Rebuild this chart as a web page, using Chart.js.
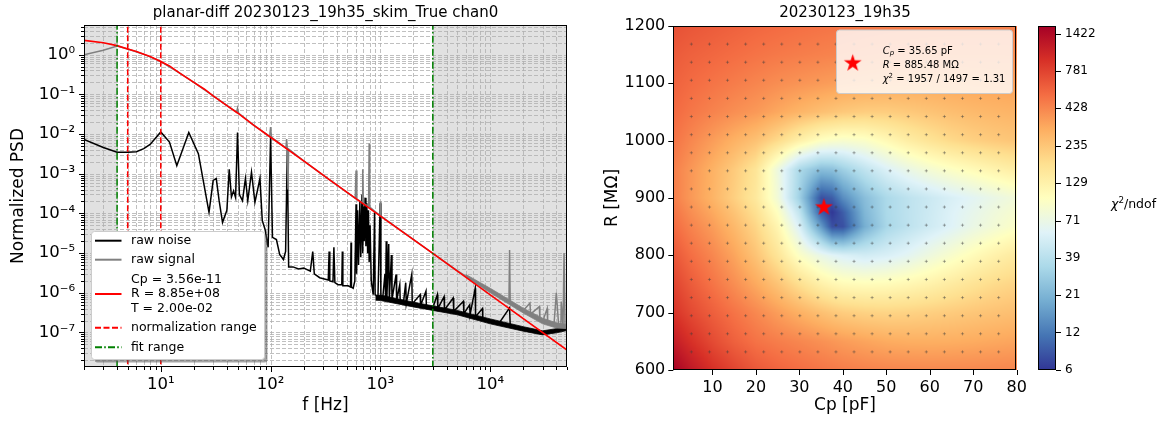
<!DOCTYPE html>
<html>
<head>
<meta charset="utf-8">
<script src="https://cdn.jsdelivr.net/npm/chart.js@4.4.1/dist/chart.umd.min.js"></script>
<style>
  html, body { margin: 0; padding: 0; background: #fff; overflow: hidden; }
  #wrap { position: relative; width: 1160px; height: 423px; }
  #wrap canvas { position: absolute; left: 0; top: 0; }
</style>
</head>
<body>
<div id="wrap">
  <canvas id="psdChart" width="1160" height="423"></canvas>
  <canvas id="chiChart" width="1160" height="423"></canvas>
  <canvas id="cbChart" width="1160" height="423"></canvas>
</div>
<script>
// ---- left panel: normalized PSD ----
const freqNoise = [2, 3, 4, 5, 6, 7, 8, 10, 12, 14, 18, 22, 27.5, 30, 32, 34, 36.5, 40, 42, 44, 46, 48, 50, 52, 55.5, 59, 62, 67, 72, 80, 84, 89, 95, 100, 104, 113, 121, 131, 137, 142, 146, 160, 180, 200, 230, 242, 250, 280, 335, 341, 346, 370, 377, 385, 411, 445, 450, 455, 508, 535, 540, 545, 565, 585, 600, 607, 620, 632, 650, 662, 680, 690, 700, 712, 725, 738, 752, 765, 778, 790, 805, 825, 860, 885, 895, 950, 995, 1010, 1050, 1100, 1115, 1130, 1145, 1190, 1205, 1260, 1275, 1390, 1405, 1500, 1515, 1620, 1700, 1720, 1930, 1950, 2300, 2320, 2600, 2620, 3000, 3300, 3330, 3800, 3830, 4600, 4650, 5700, 5750, 6500, 6550, 7300, 7350, 8500, 8550, 10000, 12000, 15000, 15200, 20000, 25000, 30000, 35000, 40000, 45000, 50000];
const psdNoise = [7.3e-3, 4.6e-3, 3.5e-3, 3.5e-3, 3.6e-3, 4.3e-3, 5.5e-3, 1.13e-2, 6.3e-3, 1.6e-3, 1.1e-2, 3.2e-3, 1.07e-4, 6.8e-4, 7.6e-4, 2.1e-4, 5.9e-5, 1.2e-4, 1.3e-3, 2.6e-4, 3.7e-4, 2.5e-4, 1.1e-2, 3.0e-4, 2.1e-4, 7.6e-4, 2.1e-4, 1.1e-3, 1.9e-4, 7.6e-4, 6.6e-5, 4.0e-5, 1.4e-5, 8.5e-3, 2.5e-5, 2.2e-5, 9.3e-6, 6.9e-6, 1.1e-5, 4.0e-3, 4.5e-6, 4.5e-6, 4.0e-6, 4.2e-6, 3.5e-6, 1.1e-5, 3.0e-6, 2.4e-6, 2.1e-6, 1.1e-5, 2.0e-6, 1.9e-6, 1.4e-5, 1.8e-6, 1.6e-6, 1.6e-6, 1.1e-5, 1.5e-6, 1.5e-6, 1.4e-6, 1.85e-5, 1.4e-6, 1.3e-6, 2.0e-6, 1.7e-4, 3.0e-6, 1.2e-4, 5.0e-6, 2.0e-4, 8.0e-6, 3.0e-4, 1.0e-5, 1.5e-4, 2.0e-5, 2.5e-4, 1.5e-5, 1.8e-4, 1.0e-5, 1.2e-4, 6.0e-6, 5.0e-5, 2.0e-6, 9.0e-7, 1.07e-4, 9.0e-7, 8.0e-7, 1.8e-4, 8.0e-7, 7.4e-7, 3.0e-6, 7.2e-7, 2.0e-5, 7.5e-7, 1.7e-5, 7.0e-7, 9.0e-6, 6.8e-7, 2.9e-6, 6.4e-7, 1.6e-6, 6.0e-7, 5.5e-7, 1.8e-6, 5.3e-7, 2.9e-6, 5.2e-7, 9.0e-7, 4.8e-7, 1.1e-6, 4.6e-7, 4.2e-7, 9.0e-7, 4.0e-7, 8.0e-7, 3.7e-7, 7.4e-7, 3.4e-7, 6.1e-7, 3.0e-7, 5.0e-7, 2.8e-7, 1.3e-6, 2.5e-7, 4.0e-7, 2.1e-7, 1.9e-7, 1.7e-7, 4.2e-7, 1.5e-7, 1.25e-7, 1.05e-7, 9.5e-8, 1.0e-7, 1.15e-7, 1.25e-7, 1.25e-7];

// spread of the dense noise trace above ~1 kHz
const bandFreq = [900, 1000, 2000, 3000, 5000, 10000, 20000, 30000, 40000, 50000];
const bandHigh = [8.5e-7, 8.8e-7, 5.8e-7, 4.7e-7, 3.6e-7, 2.2e-7, 1.4e-7, 1.1e-7, 1.25e-7, 1.38e-7];
const bandLow = [6.5e-7, 6.4e-7, 4.4e-7, 3.6e-7, 2.8e-7, 1.65e-7, 1.08e-7, 8.7e-8, 9.8e-8, 1.12e-7];

const freqSignal = [2, 3, 4, 5, 7, 10, 15, 20, 30, 45, 49, 50, 51, 70, 98, 100, 102, 138, 140, 142, 144, 146, 200, 345, 590, 600, 610, 680, 690, 700, 780, 790, 800, 990, 1000, 1010, 3000, 5000, 7000, 10000, 14800, 15000, 15200, 20000, 23000, 23300, 28000, 28300, 30000, 33000, 33300, 38000, 40000, 42000, 44000, 44300, 46000, 47000, 48000, 50000];
const psdSignal = [1.0, 1.3, 1.65, 1.39, 1.03, 0.67, 0.34, 0.2, 0.092, 0.042, 0.036, 0.045, 0.034, 0.0168, 0.0087, 0.015, 0.0082, 4.5e-3, 7.5e-3, 4.4e-3, 4.0e-4, 4.2e-3, 2.1e-3, 7.0e-4, 2.4e-4, 1.2e-3, 2.3e-4, 1.9e-4, 1.3e-3, 1.8e-4, 1.5e-4, 5.8e-3, 1.45e-4, 8.8e-5, 2.0e-4, 8.6e-5, 9.8e-6, 3.6e-6, 2.0e-6, 1.15e-6, 6.0e-7, 1.2e-5, 5.8e-7, 3.6e-7, 5.5e-7, 2.9e-7, 4.5e-7, 2.2e-7, 1.9e-7, 4.0e-7, 1.75e-7, 1.5e-7, 1.0e-6, 1.45e-7, 1.42e-7, 6.0e-7, 1.4e-7, 1.0e-5, 1.4e-7, 1.4e-7];

// spread of the signal trace where it rises above the fit
const sigBandFreq = [6000, 10000, 20000, 30000, 40000, 50000];
const sigBandHigh = [2.9e-6, 1.3e-6, 4.1e-7, 2.3e-7, 1.75e-7, 1.6e-7];
const sigBandLow = [2.5e-6, 1.0e-6, 3.1e-7, 1.65e-7, 1.3e-7, 1.25e-7];

const freqFit = [2, 3, 4, 5, 6, 7, 8, 10, 12, 15, 20, 25, 30, 40, 50, 70, 100, 200, 345, 1000, 3000, 10000, 50000];
const psdFit = [2.3, 2.0, 1.69, 1.39, 1.2, 1.03, 0.9, 0.67, 0.52, 0.34, 0.2, 0.135, 0.092, 0.052, 0.034, 0.0168, 8.3e-3, 2.1e-3, 7.0e-4, 8.6e-5, 9.8e-6, 8.9e-7, 3.6e-8];

const normRange = [5, 10];
const fitRange = [4, 3000];
const fitCp = 3.56e-11, fitR = 8.85e8, fitT = 2.00e-2;

const freqTickValues = [10, 100, 1000, 10000];
const freqTickLabels = ['10¹', '10²', '10³', '10⁴'];
const psdTickValues = [1e-7, 1e-6, 1e-5, 1e-4, 1e-3, 1e-2, 1e-1, 1];
const psdTickLabels = ['10⁻⁷', '10⁻⁶', '10⁻⁵', '10⁻⁴', '10⁻³', '10⁻²', '10⁻¹', '10⁰'];
const freqMin = 2, freqMax = 5e4, psdMin = 1.35e-8, psdMax = 5.6;

// ---- right panel: chi2/ndof scan over Cp and R ----
const cpNodes = [1, 5, 10, 15, 20, 25, 30, 35, 37.5, 40, 45, 50, 55, 60, 65, 70, 75, 80];
const rNodes = [600, 650, 700, 750, 800, 850, 875, 900, 950, 1000, 1050, 1100, 1150, 1200];
const chiR600 = [1550, 1200, 930, 760, 640, 575, 530, 495, 480, 465, 445, 432, 425, 420, 420, 422, 426, 432];
const chiR650 = [1150, 920, 720, 590, 505, 460, 425, 390, 372, 355, 330, 310, 302, 300, 303, 310, 320, 330];
const chiR700 = [900, 730, 600, 500, 420, 350, 295, 250, 232, 218, 205, 200, 204, 212, 222, 234, 245, 256];
const chiR750 = [770, 620, 500, 400, 315, 240, 175, 130, 118, 110, 106, 108, 116, 128, 145, 165, 185, 200];
const chiR800 = [650, 525, 425, 330, 240, 160, 95, 68, 60, 55, 50, 54, 62, 75, 90, 108, 128, 148];
const chiR850 = [540, 440, 355, 270, 195, 120, 55, 16, 8, 8, 20, 33, 41, 49, 58, 70, 82, 95];
const chiR875 = [500, 400, 318, 240, 172, 100, 42, 9, 6.5, 9, 22, 34, 41, 48, 57, 66, 77, 88];
const chiR900 = [460, 365, 285, 210, 150, 80, 30, 8, 9, 14, 24, 34, 41, 47, 54, 61, 70, 80];
const chiR950 = [455, 372, 292, 222, 160, 75, 34, 24, 25, 30, 42, 56, 70, 84, 97, 110, 125, 140];
const chiR1000 = [500, 425, 352, 292, 245, 185, 130, 98, 92, 88, 93, 112, 138, 163, 188, 208, 224, 236];
const chiR1050 = [545, 490, 440, 398, 365, 320, 282, 252, 240, 228, 216, 216, 226, 240, 255, 268, 278, 286];
const chiR1100 = [585, 540, 500, 465, 432, 402, 380, 360, 351, 342, 330, 322, 320, 320, 324, 330, 336, 342];
const chiR1150 = [625, 590, 560, 530, 502, 480, 462, 446, 439, 432, 420, 410, 404, 400, 400, 400, 400, 402];
const chiR1200 = [685, 650, 620, 590, 562, 540, 522, 506, 499, 492, 480, 470, 464, 458, 454, 452, 450, 450];
const chiRows = [chiR600, chiR650, chiR700, chiR750, chiR800, chiR850, chiR875, chiR900, chiR950, chiR1000, chiR1050, chiR1100, chiR1150, chiR1200];

// scanned grid points (small markers)
const scanCp = [5.16, 9.32, 13.47, 17.63, 21.79, 25.95, 30.11, 34.26, 38.42, 42.58, 46.74, 50.89, 55.05, 59.21, 63.37, 67.53, 71.68, 75.84];
const scanR = [631.6, 663.2, 694.7, 726.3, 757.9, 789.5, 821.1, 852.6, 884.2, 915.8, 947.4, 978.9, 1010.5, 1042.1, 1073.7, 1105.3, 1136.8, 1168.4];

const bestCp = 35.65, bestR = 885.48, chi2 = 1957, ndof = 1497;
const cpTickValues = [10, 20, 30, 40, 50, 60, 70, 80];
const rTickValues = [600, 700, 800, 900, 1000, 1100, 1200];
const cbTickValues = [6.4, 11.7, 21.3, 38.7, 70.5, 128.5, 234, 427, 778, 1418];
const cbTickLabels = ['6', '12', '21', '39', '71', '129', '235', '428', '781', '1422'];
const cbMin = 6.4, cbMax = 1600;

// ---- helpers ----
const FONT = "'DejaVu Sans', sans-serif";
Chart.defaults.font.family = FONT;
Chart.defaults.color = '#000';

function pts(xs, ys) { return xs.map((x, i) => ({ x: x, y: ys[i] })); }

function sameLog(a, b) { return Math.abs(Math.log10(a) - Math.log10(b)) < 1e-6; }

function labelFor(v, values, labels) {
    const i = values.findIndex(t => sameLog(t, v));
    return i >= 0 ? labels[i] : '';
}

// 1..9 x 10^k inside [min, max]
function logTickList(min, max) {
    const out = [];
    for (let e = Math.floor(Math.log10(min)); e <= Math.ceil(Math.log10(max)); e++) {
        for (let m = 1; m <= 9; m++) {
            const v = m * Math.pow(10, e);
            if (v >= min * 0.999999 && v <= max * 1.000001) out.push(v);
        }
    }
    return out;
}

function fmtExp(v) {
    const [m, e] = v.toExponential(2).split('e');
    const n = parseInt(e, 10);
    return m + 'e' + (n < 0 ? '-' : '+') + String(Math.abs(n)).padStart(2, '0');
}

function roundRect(ctx, x, y, w, h, r) {
    ctx.beginPath();
    ctx.moveTo(x + r, y);
    ctx.arcTo(x + w, y, x + w, y + h, r);
    ctx.arcTo(x + w, y + h, x, y + h, r);
    ctx.arcTo(x, y + h, x, y, r);
    ctx.arcTo(x, y, x + w, y, r);
    ctx.closePath();
}

function drawFrame(ctx, a) {
    ctx.save();
    ctx.strokeStyle = '#000';
    ctx.lineWidth = 1;
    ctx.strokeRect(Math.round(a.left) + 0.5, Math.round(a.top) + 0.5, Math.round(a.right - a.left) - 1, Math.round(a.bottom - a.top) - 1);
    ctx.restore();
}

// outward tick marks, matplotlib style
function drawTickMarks(ctx, scale, a, side, isMajor) {
    ctx.save();
    ctx.strokeStyle = '#000';
    ctx.lineWidth = 1;
    ctx.beginPath();
    scale.ticks.forEach(t => {
        const len = isMajor(t.value) ? 5 : 3;
        const p = Math.round(scale.getPixelForValue(t.value)) + 0.5;
        if (side === 'bottom') { ctx.moveTo(p, a.bottom); ctx.lineTo(p, a.bottom + len); }
        if (side === 'left') { ctx.moveTo(a.left, p); ctx.lineTo(a.left - len, p); }
        if (side === 'right') { ctx.moveTo(a.right, p); ctx.lineTo(a.right + len, p); }
    });
    ctx.stroke();
    ctx.restore();
}

// text made of pieces: italic, sub/superscript
function drawRuns(ctx, x, y, runs, size) {
    ctx.textBaseline = 'middle';
    ctx.textAlign = 'left';
    runs.forEach(r => {
        const s = (r.sub || r.sup) ? size * 0.7 : size;
        ctx.font = (r.it ? 'italic ' : '') + s + 'px ' + FONT;
        const dy = r.sub ? size * 0.25 : (r.sup ? -size * 0.35 : 0);
        ctx.fillText(r.t, x, y + dy);
        x += ctx.measureText(r.t).width;
    });
}

// RdYlBu reversed
const cmapStops = ['#313695', '#4575b4', '#74add1', '#abd9e9', '#e0f3f8', '#ffffbf', '#fee090', '#fdae61', '#f46d43', '#d73027', '#a50026'];
const cmapRgb = cmapStops.map(h => [1, 3, 5].map(i => parseInt(h.substr(i, 2), 16)));
function cmap(t) {
    t = Math.min(1, Math.max(0, t)) * 10;
    const i = Math.min(9, Math.floor(t));
    const f = t - i;
    const a = cmapRgb[i], b = cmapRgb[i + 1];
    return [0, 1, 2].map(k => Math.round(a[k] + (b[k] - a[k]) * f));
}
function chiToT(v) { return Math.log(v / cbMin) / Math.log(cbMax / cbMin); }

const logRows = chiRows.map(row => row.map(v => Math.log(v)));
function chiAt(cp, r) {
    let i = 0, j = 0;
    while (i < cpNodes.length - 2 && cp > cpNodes[i + 1]) i++;
    while (j < rNodes.length - 2 && r > rNodes[j + 1]) j++;
    const tx = Math.min(1, Math.max(0, (cp - cpNodes[i]) / (cpNodes[i + 1] - cpNodes[i])));
    const ty = Math.min(1, Math.max(0, (r - rNodes[j]) / (rNodes[j + 1] - rNodes[j])));
    const lo = logRows[j][i] * (1 - tx) + logRows[j][i + 1] * tx;
    const hi = logRows[j + 1][i] * (1 - tx) + logRows[j + 1][i + 1] * tx;
    return Math.exp(lo * (1 - ty) + hi * ty);
}

// filled five-point star marker
function makeStar(r) {
    const c = document.createElement('canvas');
    const s = Math.ceil(r * 2 + 4);
    c.width = s; c.height = s;
    const g = c.getContext('2d');
    g.translate(s / 2, s / 2 + r * 0.1);
    g.beginPath();
    for (let k = 0; k < 10; k++) {
        const rad = k % 2 === 0 ? r : r * 0.382;
        const ang = -Math.PI / 2 + k * Math.PI / 5;
        g.lineTo(rad * Math.cos(ang), rad * Math.sin(ang));
    }
    g.closePath();
    g.fillStyle = '#ff0000';
    g.fill();
    return c;
}
const starImg = makeStar(9.3);

// ---- PSD chart ----
const psdDecor = {
    id: 'psdDecor',
    beforeDraw(chart) {
        const { ctx, chartArea: a, scales: { x } } = chart;
        ctx.save();
        ctx.fillStyle = 'rgba(128,128,128,0.24)';
        [[freqMin, fitRange[0]], [fitRange[1], freqMax]].forEach(([f0, f1]) => {
            const p0 = x.getPixelForValue(f0), p1 = x.getPixelForValue(f1);
            ctx.fillRect(p0, a.top, p1 - p0, a.bottom - a.top);
        });
        ctx.restore();
    },
    beforeDatasetsDraw(chart) {
        const { ctx, chartArea: a, scales: { x, y } } = chart;
        ctx.save();
        ctx.beginPath();
        ctx.rect(a.left, a.top, a.right - a.left, a.bottom - a.top);
        ctx.clip();
        ctx.strokeStyle = '#b0b0b0';
        ctx.lineWidth = 0.8;
        ctx.setLineDash([4, 2]);
        ctx.beginPath();
        x.ticks.forEach(t => {
            const p = Math.round(x.getPixelForValue(t.value)) + 0.5;
            ctx.moveTo(p, a.top); ctx.lineTo(p, a.bottom);
        });
        y.ticks.forEach(t => {
            const p = Math.round(y.getPixelForValue(t.value)) + 0.5;
            ctx.moveTo(a.left, p); ctx.lineTo(a.right, p);
        });
        ctx.stroke();
        ctx.restore();
    },
    afterDatasetsDraw(chart) {
        const { ctx, chartArea: a, scales: { x, y } } = chart;
        drawFrame(ctx, a);
        drawTickMarks(ctx, x, a, 'bottom', v => freqTickValues.some(t => sameLog(t, v)));
        drawTickMarks(ctx, y, a, 'left', v => psdTickValues.some(t => sameLog(t, v)));

        // legend
        ctx.save();
        const bx = 91.5, by = 231.5, bw = 173, bh = 128;
        ctx.fillStyle = 'rgba(77,77,77,0.5)';
        roundRect(ctx, bx + 3, by + 3, bw, bh, 3);
        ctx.fill();
        ctx.fillStyle = '#fff';
        roundRect(ctx, bx, by, bw, bh, 3);
        ctx.fill();
        ctx.strokeStyle = '#cccccc';
        ctx.lineWidth = 1;
        ctx.stroke();
        const rows = [
            { y: 240.7, color: '#000000', dash: [], text: ['raw noise'] },
            { y: 259.7, color: '#808080', dash: [], text: ['raw signal'] },
            { y: 294, color: '#ff0000', dash: [], text: ['Cp = ' + fmtExp(fitCp), 'R = ' + fmtExp(fitR), 'T = ' + fmtExp(fitT)] },
            { y: 327.7, color: '#ff0000', dash: [6, 2.5], text: ['normalization range'] },
            { y: 347.3, color: '#008000', dash: [7, 2.2, 1.6, 2.2], text: ['fit range'] }
        ];
        ctx.font = '12.5px ' + FONT;
        ctx.textBaseline = 'middle';
        ctx.textAlign = 'left';
        rows.forEach(r => {
            ctx.strokeStyle = r.color;
            ctx.lineWidth = 2;
            ctx.setLineDash(r.dash);
            ctx.beginPath();
            ctx.moveTo(95, r.y); ctx.lineTo(121.5, r.y);
            ctx.stroke();
            ctx.fillStyle = '#000';
            const n = r.text.length;
            r.text.forEach((t, k) => ctx.fillText(t, 131, r.y + (k - (n - 1) / 2) * 14.7));
        });
        ctx.restore();

        // title
        ctx.save();
        ctx.font = '15px ' + FONT;
        ctx.textAlign = 'center';
        ctx.textBaseline = 'middle';
        ctx.fillStyle = '#000';
        ctx.fillText('planar-diff 20230123_19h35_skim_True chan0', (a.left + a.right) / 2, 13);
        ctx.restore();
    }
};

function vline(f) { return [{ x: f, y: psdMin / 10 }, { x: f, y: psdMax * 10 }]; }

const vlineSets = [];
fitRange.forEach(f => vlineSets.push({ data: vline(f), borderColor: '#008000', borderWidth: 1.5, borderDash: [7, 2.2, 1.6, 2.2] }));
normRange.forEach(f => vlineSets.push({ data: vline(f), borderColor: '#ff0000', borderWidth: 1.5, borderDash: [6, 2.5] }));

const psdChart = new Chart(document.getElementById('psdChart'), {
    type: 'line',
    data: {
        datasets: [
            ...vlineSets,
            { label: 'fit', data: pts(freqFit, psdFit), borderColor: '#ff0000', borderWidth: 1.6 },
            { label: 'signal band high', data: pts(sigBandFreq, sigBandHigh), borderColor: '#808080', borderWidth: 0.8, fill: '+1', backgroundColor: '#808080' },
            { label: 'signal band low', data: pts(sigBandFreq, sigBandLow), borderColor: '#808080', borderWidth: 0.8 },
            { label: 'raw signal', data: pts(freqSignal, psdSignal), borderColor: '#808080', borderWidth: 1.5 },
            { label: 'band high', data: pts(bandFreq, bandHigh), borderColor: '#000', borderWidth: 0.8, fill: '+1', backgroundColor: '#000' },
            { label: 'band low', data: pts(bandFreq, bandLow), borderColor: '#000', borderWidth: 0.8 },
            { label: 'raw noise', data: pts(freqNoise, psdNoise), borderColor: '#000000', borderWidth: 1.5 }
        ]
    },
    options: {
        responsive: false,
        animation: false,
        events: [],
        elements: { point: { radius: 0 }, line: { tension: 0, fill: false } },
        layout: { padding: { left: 0, right: 593, top: 25, bottom: 0 } },
        plugins: { legend: { display: false }, tooltip: { enabled: false } },
        scales: {
            x: {
                type: 'logarithmic',
                min: freqMin,
                max: freqMax,
                afterBuildTicks: s => { s.ticks = logTickList(freqMin, freqMax).map(v => ({ value: v })); },
                afterFit: s => { s.height = 56; },
                grid: { display: false, drawTicks: false },
                border: { display: false },
                ticks: { autoSkip: false, maxRotation: 0, padding: 8, font: { size: 16.5 }, callback: v => labelFor(v, freqTickValues, freqTickLabels) },
                title: { display: true, text: 'f [Hz]', font: { size: 17 }, padding: { top: 0, bottom: 7 } }
            },
            y: {
                type: 'logarithmic',
                min: psdMin,
                max: psdMax,
                afterBuildTicks: s => { s.ticks = logTickList(psdMin, psdMax).map(v => ({ value: v })); },
                afterFit: s => { s.width = 84; },
                grid: { display: false, drawTicks: false },
                border: { display: false },
                ticks: { autoSkip: false, padding: 9, font: { size: 16.5 }, callback: v => labelFor(v, psdTickValues, psdTickLabels) },
                title: { display: true, text: 'Normalized PSD', font: { size: 17 }, padding: { top: 8, bottom: 0 } }
            }
        }
    },
    plugins: [psdDecor]
});

// ---- chi2 map ----
const chiDecor = {
    id: 'chiDecor',
    beforeDatasetsDraw(chart) {
        const { ctx, chartArea: a, scales: { x, y } } = chart;
        const w = Math.round(a.right - a.left), h = Math.round(a.bottom - a.top);
        const off = document.createElement('canvas');
        off.width = w; off.height = h;
        const g = off.getContext('2d');
        const img = g.createImageData(w, h);
        for (let j = 0; j < h; j++) {
            const r = y.getValueForPixel(a.top + j + 0.5);
            for (let i = 0; i < w; i++) {
                const cp = x.getValueForPixel(a.left + i + 0.5);
                const c = cmap(chiToT(chiAt(cp, r)));
                const k = (j * w + i) * 4;
                img.data[k] = c[0]; img.data[k + 1] = c[1]; img.data[k + 2] = c[2]; img.data[k + 3] = 255;
            }
        }
        g.putImageData(img, 0, 0);
        ctx.drawImage(off, a.left, a.top, a.right - a.left, a.bottom - a.top);
    },
    afterDatasetsDraw(chart) {
        const { ctx, chartArea: a, scales: { x, y } } = chart;
        drawFrame(ctx, a);
        drawTickMarks(ctx, x, a, 'bottom', () => true);
        drawTickMarks(ctx, y, a, 'left', () => true);

        // legend box
        ctx.save();
        const bx = 836.5, by = 30, bw = 176, bh = 63.5;
        ctx.fillStyle = 'rgba(255,255,255,0.8)';
        roundRect(ctx, bx, by, bw, bh, 3);
        ctx.fill();
        ctx.strokeStyle = '#cccccc';
        ctx.lineWidth = 1;
        ctx.stroke();
        ctx.drawImage(starImg, 852.7 - starImg.width / 2, 62.3 - starImg.height / 2);
        ctx.fillStyle = '#000';
        drawRuns(ctx, 882.7, 51, [{ t: 'C', it: true }, { t: 'p', it: true, sub: true }, { t: ' = ' + bestCp.toFixed(2) + ' pF' }], 10);
        drawRuns(ctx, 882.7, 65.5, [{ t: 'R', it: true }, { t: ' = ' + bestR.toFixed(2) + ' MΩ' }], 10);
        drawRuns(ctx, 882.7, 79.5, [{ t: 'χ', it: true }, { t: '2', sup: true }, { t: ' = ' + chi2 + ' / ' + ndof + ' = ' + (chi2 / ndof).toFixed(2) }], 10);
        ctx.restore();

        ctx.save();
        ctx.font = '15px ' + FONT;
        ctx.textAlign = 'center';
        ctx.textBaseline = 'middle';
        ctx.fillStyle = '#000';
        ctx.fillText('20230123_19h35', (a.left + a.right) / 2, 13);
        ctx.restore();
    }
};

const scanPoints = [];
scanR.forEach(r => scanCp.forEach(c => scanPoints.push({ x: c, y: r })));

const chiChart = new Chart(document.getElementById('chiChart'), {
    type: 'scatter',
    data: {
        datasets: [
            { label: 'best fit', data: [{ x: bestCp, y: bestR }], pointStyle: starImg, pointRadius: 10 },
            { label: 'scan', data: scanPoints, pointStyle: 'cross', pointRadius: 1.6, borderColor: 'rgba(60,60,60,0.5)', borderWidth: 0.8 }
        ]
    },
    options: {
        responsive: false,
        animation: false,
        events: [],
        layout: { padding: { left: 600, right: 143.3, top: 26, bottom: 0 } },
        plugins: { legend: { display: false }, tooltip: { enabled: false } },
        scales: {
            x: {
                type: 'linear',
                min: 1,
                max: 80,
                afterBuildTicks: s => { s.ticks = cpTickValues.map(v => ({ value: v })); },
                afterFit: s => { s.height = 53; },
                grid: { display: false, drawTicks: false },
                border: { display: false },
                ticks: { autoSkip: false, maxRotation: 0, padding: 8, font: { size: 16 }, callback: v => String(v) },
                title: { display: true, text: 'Cp [pF]', font: { size: 17 }, padding: { top: 0, bottom: 7 } }
            },
            y: {
                type: 'linear',
                min: 600,
                max: 1200,
                afterBuildTicks: s => { s.ticks = rTickValues.map(v => ({ value: v })); },
                afterFit: s => { s.width = 73.3; },
                grid: { display: false, drawTicks: false },
                border: { display: false },
                ticks: { autoSkip: false, padding: 8, font: { size: 16 }, callback: v => String(v) },
                title: { display: true, text: 'R [MΩ]', font: { size: 17 }, padding: { top: 2, bottom: 0 } }
            }
        }
    },
    plugins: [chiDecor]
});

// ---- colorbar ----
const cbDecor = {
    id: 'cbDecor',
    beforeDatasetsDraw(chart) {
        const { ctx, chartArea: a } = chart;
        const grad = ctx.createLinearGradient(0, a.bottom, 0, a.top);
        cmapStops.forEach((c, k) => grad.addColorStop(k / 10, c));
        ctx.save();
        ctx.fillStyle = grad;
        ctx.fillRect(a.left, a.top, a.right - a.left, a.bottom - a.top);
        ctx.restore();
    },
    afterDraw(chart) {
        const { ctx, chartArea: a, scales: { y } } = chart;
        drawFrame(ctx, a);
        drawTickMarks(ctx, y, a, 'right', () => true);
        ctx.save();
        ctx.fillStyle = '#000';
        drawRuns(ctx, 1111, 205, [{ t: 'χ', it: true }, { t: '2', sup: true }, { t: '/ndof' }], 12.5);
        ctx.restore();
    }
};

const cbChart = new Chart(document.getElementById('cbChart'), {
    type: 'scatter',
    data: { datasets: [{ data: [] }] },
    options: {
        responsive: false,
        animation: false,
        events: [],
        layout: { padding: { left: 1038.3, right: 0, top: 26, bottom: 53 } },
        plugins: { legend: { display: false }, tooltip: { enabled: false } },
        scales: {
            x: { type: 'linear', display: false, min: 0, max: 1 },
            y: {
                type: 'logarithmic',
                position: 'right',
                min: cbMin,
                max: cbMax,
                afterBuildTicks: s => { s.ticks = cbTickValues.map(v => ({ value: v })); },
                afterFit: s => { s.width = 104; },
                grid: { display: false, drawTicks: false },
                border: { display: false },
                ticks: { autoSkip: false, padding: 9, font: { size: 12 }, callback: (v, i) => cbTickLabels[i] }
            }
        }
    },
    plugins: [cbDecor]
});
</script>
</body>
</html>
